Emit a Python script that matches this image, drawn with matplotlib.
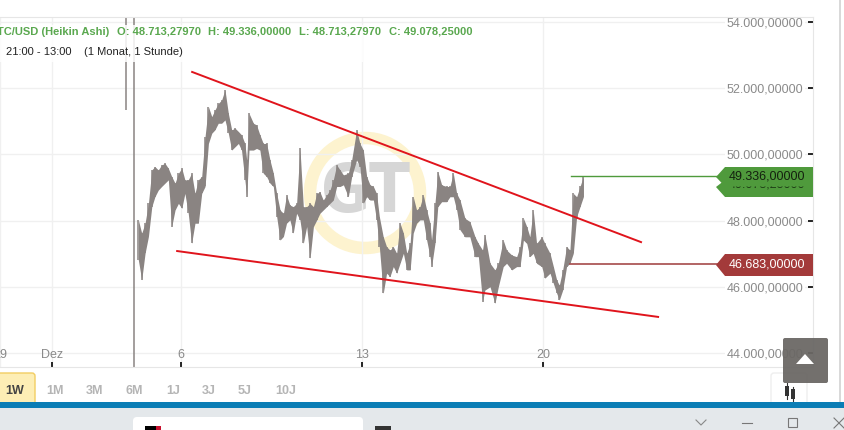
import matplotlib as mpl
import matplotlib.pyplot as plt
from matplotlib.patches import Rectangle, Polygon, Circle, FancyBboxPatch

plt.rcParams['font.family'] = ['Liberation Sans', 'DejaVu Sans']

# day of december (fractional), high and low
days = [3.87, 4.20, 4.35, 4.48, 4.61, 4.74, 4.87, 4.99, 5.12, 5.25, 5.38, 5.51, 5.64, 5.77, 5.90, 6.03, 6.15, 6.28, 6.41, 6.54,
        6.67, 6.80, 6.93, 7.06, 7.19, 7.31, 7.44, 7.57, 7.70, 7.83, 7.96, 8.09, 8.22, 8.34, 8.47, 8.54, 8.63, 8.80, 8.92, 9.05,
        9.18, 9.31, 9.44, 9.57, 9.70, 9.83, 9.96, 10.08, 10.21, 10.34, 10.47, 10.60, 10.73, 10.86, 10.99, 11.12, 11.25, 11.37, 11.50, 11.63,
        11.76, 11.89, 12.02, 12.15, 12.28, 12.47, 12.60, 12.79, 12.92, 13.05, 13.18, 13.31, 13.44, 13.56, 13.67, 13.82, 13.95, 14.08, 14.21, 14.34,
        14.47, 14.60, 14.73, 14.86, 14.98, 15.11, 15.24, 15.37, 15.50, 15.63, 15.69, 15.82, 15.93, 16.08, 16.27, 16.40, 16.53, 16.66, 16.79, 16.98,
        17.17, 17.37, 17.50, 17.66, 17.75, 17.95, 18.14, 18.27, 18.46, 18.59, 18.79, 18.98, 19.11, 19.24, 19.37, 19.49, 19.62, 19.75, 19.95, 20.07,
        20.27, 20.40, 20.53, 20.63, 20.76, 20.91, 21.04, 21.17, 21.30, 21.43, 21.56]
highs = [54150, 54150, 48020, 47620, 47920, 48520, 49530, 49630, 49530, 49680, 49730, 49580, 49330, 49130, 49430, 49580, 49230, 49230, 49430, 48820,
         49230, 49330, 50540, 51440, 51140, 51340, 51540, 51640, 51950, 51240, 50740, 50790, 50690, 50590, 50330, 49830, 51240, 50940, 50890, 50590,
         50330, 50330, 49830, 49430, 48820, 48320, 48220, 48770, 48470, 48420, 48520, 50180, 48420, 48420, 48520, 48420, 48820, 48870, 48620, 48770,
         48920, 49230, 49680, 49530, 49380, 49430, 49830, 50740, 50330, 50130, 49330, 49080, 49030, 48820, 48120, 47510, 47210, 47110, 47210, 47010,
         47920, 47620, 47010, 47310, 48720, 48320, 48420, 48770, 48320, 47920, 47410, 48520, 49480, 49080, 49030, 49030, 49430, 48820, 48620, 48070,
         47970, 47510, 47310, 47110, 47570, 46710, 46510, 46710, 47410, 47110, 46960, 46910, 47210, 48070, 47820, 47510, 48320, 47310, 47510, 47310,
         47010, 46610, 46200, 46050, 46510, 47210, 47110, 48820, 48720, 49030, 49336]
lows = [51340, 43550, 46810, 46210, 47010, 47520, 48420, 48720, 48920, 49030, 49130, 49230, 47820, 48320, 48520, 48370, 48820, 48220, 47310, 47920,
        47920, 48820, 49030, 50330, 50640, 50740, 50940, 50940, 51040, 50640, 50130, 50230, 50330, 50130, 49230, 48720, 50130, 50130, 50180, 50130,
        49430, 49330, 49130, 49030, 48120, 47410, 47520, 47920, 48020, 47620, 48220, 48020, 47310, 47820, 46860, 47820, 48020, 48220, 48320, 48420,
        48520, 48620, 49030, 49030, 49080, 48720, 49330, 49830, 49630, 48520, 48720, 48620, 48620, 48020, 47210, 45800, 46410, 46310, 46610, 46410,
        46710, 47010, 46510, 46510, 47620, 47920, 48020, 48020, 47410, 46910, 46610, 47310, 48420, 48570, 48570, 48720, 48720, 48320, 47720, 47510,
        47510, 46910, 46910, 45550, 45900, 46000, 45500, 46000, 46610, 46710, 46510, 46610, 46610, 47410, 47310, 46910, 47010, 46710, 46610, 46260,
        46410, 46100, 45800, 45600, 45900, 46610, 46710, 47010, 48120, 48420, 48720]

upper_days = [6.43, 23.79]
upper_prices = [52490, 47350]
lower_days = [5.85, 24.45]
lower_prices = [47080, 45090]

last_high = 49336
last_low = 46683

y_ticks = [44000, 46000, 48000, 50000, 52000, 54000]
y_labels = ['44.000,00000', '46.000,00000', '48.000,00000', '50.000,00000', '52.000,00000', '54.000,00000']
x_ticks = [-1, 1, 6, 13, 20]
x_labels = ['29', 'Dez', '6', '13', '20']
ranges = ['1M', '3M', '6M', '1J', '3J', '5J', '10J']
range_x = [55, 95, 134, 173, 209, 245, 286]

W, H = 845, 430
fig = plt.figure(figsize=(W / 100, H / 100), dpi=100, facecolor='white')

# background layer in pixels, holds the logo and window furniture
bg = fig.add_axes([0, 0, 1, 1], zorder=0)
bg.set_xlim(0, W); bg.set_ylim(H, 0); bg.axis('off')
bg.add_patch(Circle((365, 193), 55, fill=False, ec='#fdf3cf', lw=9))
bg.text(366, 193, 'GT', color='#d6d6d6', fontsize=48, fontweight='bold', family='DejaVu Sans', stretch='condensed', ha='center', va='center')

ax = fig.add_axes([0, (H - 367) / H, 813 / W, 350 / H], zorder=1)
ax.patch.set_alpha(0)
ax.set_xlim(-1, 30.44)
ax.set_ylim(43577, 54150)
ax.grid(True, color='#f0f0f0', lw=1)
ax.set_axisbelow(True)
ax.yaxis.set_zorder(0.4)  # y grid must not run over the x labels
ax.spines['left'].set_visible(False)
for s in ['top', 'right', 'bottom']:
    ax.spines[s].set_color('#e6e6e6')

grey = '#8a8482'
ax.fill_between(days[2:], lows[2:], highs[2:], color=grey, lw=0)
ax.vlines(days[:2], lows[:2], highs[:2], color=grey, lw=1.1)
ax.vlines(days[2:], lows[2:], highs[2:], color=grey, lw=1.1)

ax.plot(upper_days, upper_prices, color='#e0141c', lw=1.4)
ax.plot(lower_days, lower_prices, color='#e0141c', lw=1.4)
ax.plot([21.08, 27.3], [last_high, last_high], color='#4f9a3c', lw=1)
ax.plot([21.04, 27.3], [last_low, last_low], color='#a54a4a', lw=1.2)

ax.yaxis.tick_right()
ax.set_yticks(y_ticks)
ax.set_yticklabels(y_labels, ha='right', color='#8a8a8a', fontsize=9)
ax.tick_params(axis='y', direction='in', length=3.5, width=1.2, color='black', pad=-7)
ax.set_xticks(x_ticks)
ax.set_xticklabels(x_labels, color='#8a8a8a', fontsize=9)
ax.tick_params(axis='x', direction='in', length=3.5, width=1.2, color='black', pad=-13)
ax.xaxis.get_major_ticks()[0].tick1line.set_visible(False)
for t in ax.get_yticklabels():
    t.set_bbox(dict(fc='white', ec='none', pad=1))
    t.set_clip_on(True)
    t.set_clip_box(ax.bbox)

# top layer in pixels, labels and buttons
top = fig.add_axes([0, 0, 1, 1], zorder=2)
top.set_xlim(0, W); top.set_ylim(H, 0); top.axis('off')
top.patch.set_alpha(0)

top.add_patch(Rectangle((0, 25), 363, 37, fc='white', ec='none', alpha=0.85))
green = '#5aa84f'
top.text(109, 32, 'BTC/USD (Heikin Ashi)', color=green, fontsize=8, fontweight='bold', ha='right', va='center')
top.text(117, 32, 'O: 48.713,27970', color=green, fontsize=8, fontweight='bold', va='center')
top.text(208, 32, 'H: 49.336,00000', color=green, fontsize=8, fontweight='bold', va='center')
top.text(299, 32, 'L: 48.713,27970', color=green, fontsize=8, fontweight='bold', va='center')
top.text(389, 32, 'C: 49.078,25000', color=green, fontsize=8, fontweight='bold', va='center')
top.text(6, 52, '21:00 - 13:00', color='#222222', fontsize=8, va='center')
top.text(84, 52, '(1 Monat, 1 Stunde)', color='#222222', fontsize=8, va='center')

# price tags, the close label sits mostly hidden under the high label
top.add_patch(Polygon([(725, 180), (813, 180), (813, 197), (725, 197), (716, 187)], fc='#4f9a3c', ec='none', zorder=2))
top.text(805, 184.5, '49.078,25000', color='#1c3a14', fontsize=9, ha='right', va='center', zorder=3)
top.add_patch(Polygon([(725, 167), (813, 167), (813, 186.5), (725, 186.5), (716, 177)], fc='#4f9a3c', ec='none', zorder=4))
top.text(805, 176.5, '49.336,00000', color='#14200f', fontsize=9, ha='right', va='center', zorder=5)
top.add_patch(Polygon([(725, 254), (813, 254), (813, 276), (725, 276), (716, 265)], fc='#a33a3a', ec='none'))
top.text(805, 264.5, '46.683,00000', color='white', fontsize=9, ha='right', va='center')

# range buttons
top.add_patch(FancyBboxPatch((-6, 373), 41, 40, boxstyle='round,pad=0,rounding_size=3', fc='#fdeeb5', ec='#f2cd62', lw=1))
top.text(15, 391, '1W', color='#444444', fontsize=9, fontweight='bold', ha='center', va='center')
for lab, x in zip(ranges, range_x):
    top.text(x, 391, lab, color='#b5b5b5', fontsize=9, fontweight='bold', ha='center', va='center')

# scroll button and candle icon
top.add_patch(FancyBboxPatch((771, 373), 36, 40, boxstyle='round,pad=0,rounding_size=3', fc='none', ec='#eeeeee', lw=1))
top.add_patch(FancyBboxPatch((783, 338), 45, 45, boxstyle='round,pad=0,rounding_size=2', fc='#6b6865', ec='none', alpha=0.95, zorder=6))
top.add_patch(Polygon([(796, 364), (814, 364), (805, 354)], fc='white', ec='none', zorder=7))
top.add_patch(Rectangle((785, 386), 4, 10, fc='#333333', ec='none'))
top.add_patch(Rectangle((791, 389), 4, 10, fc='#333333', ec='none'))
top.plot([787, 787], [383, 399], color='#333333', lw=0.8)
top.plot([793, 793], [387, 401], color='#333333', lw=0.8)

# browser chrome at the bottom
top.add_patch(Rectangle((839, 0), 2, 402, fc='#d9d9d9', ec='none'))
top.add_patch(Rectangle((0, 408), W, 22, fc='#e4e8eb', ec='none', zorder=3))
top.add_patch(Rectangle((0, 402), W, 6, fc='#0b7db5', ec='none', zorder=3))
top.add_patch(FancyBboxPatch((133, 417), 230, 20, boxstyle='round,pad=0,rounding_size=4', fc='white', ec='none', zorder=4))
top.add_patch(Rectangle((145, 426), 11, 4, fc='black', ec='none', zorder=5))
top.add_patch(Rectangle((156, 426), 5, 4, fc='#c8102e', ec='none', zorder=5))
top.add_patch(Rectangle((375, 426), 16, 4, fc='#333333', ec='none', zorder=5))
top.plot([696, 701, 706], [420, 425, 420], color='#888888', lw=0.8, zorder=5)
top.plot([742, 752], [423, 423], color='#777777', lw=0.8, zorder=5)
top.add_patch(Rectangle((788, 418), 9, 9, fc='none', ec='#777777', lw=0.8, zorder=5))
top.plot([834, 844], [418, 428], color='#777777', lw=0.8, zorder=5)
top.plot([834, 844], [428, 418], color='#777777', lw=0.8, zorder=5)

plt.savefig('out.png', dpi=100)
